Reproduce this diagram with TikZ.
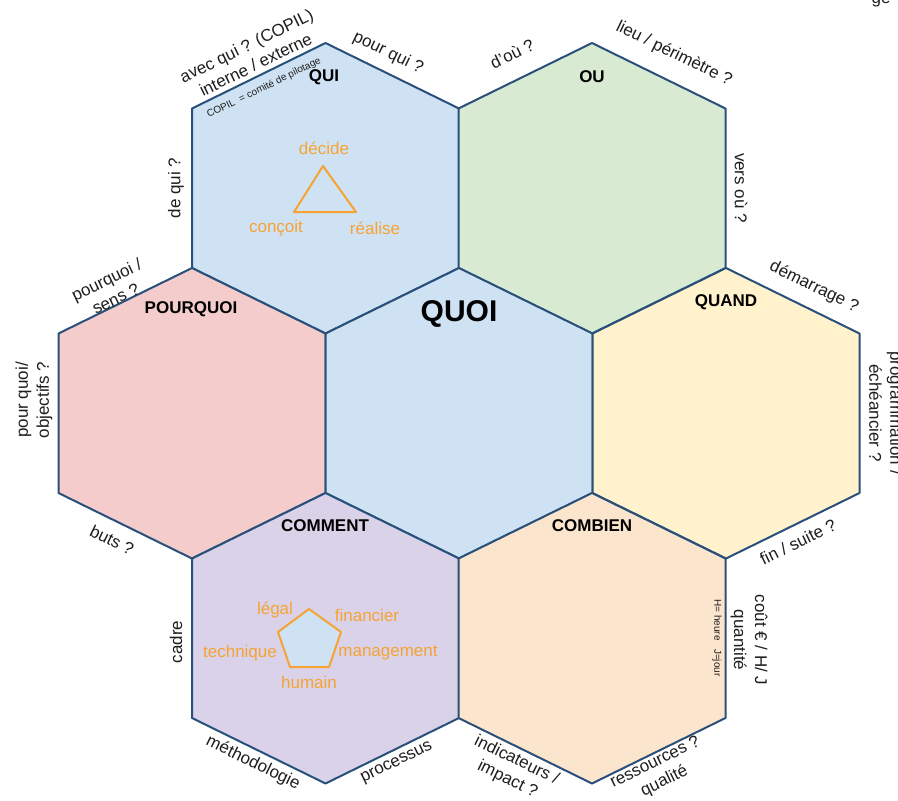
\documentclass[tikz,border=0pt]{standalone}
\usepackage{fontspec}
\setmainfont{Liberation Sans}
\definecolor{hexedge}{RGB}{40,80,122}
\definecolor{cblue}{RGB}{207,226,243}
\definecolor{cgreen}{RGB}{217,234,211}
\definecolor{cpink}{RGB}{244,204,204}
\definecolor{cyellow}{RGB}{255,242,204}
\definecolor{cpurple}{RGB}{217,210,233}
\definecolor{corange}{RGB}{252,229,205}
\definecolor{orangec}{RGB}{246,163,52}
\definecolor{lbltext}{RGB}{30,30,30}
\newcommand\hexcell[3]{\draw[hexline,fill=#3,shift={(#1,#2)}] (-133.5,79.75) -- (0,145.25) -- (133.5,79.75) -- (133.5,-79.75) -- (0,-145.25) -- (-133.5,-79.75) -- cycle;}
\begin{document}
\begin{tikzpicture}[x=1pt,y=1pt,
  hexline/.style={draw=hexedge,line width=2pt,line join=round},
  lbl/.style={font=\fontsize{17}{21}\selectfont,text=lbltext,align=center,inner sep=0pt},
  hdr/.style={font=\bfseries\fontsize{17}{19}\selectfont,text=black,inner sep=0pt},
  small/.style={font=\fontsize{10}{12}\selectfont,text=lbltext,inner sep=0pt},
  org/.style={font=\fontsize{17}{19}\selectfont,text=orangec,inner sep=0pt},
  orgline/.style={draw=orangec,line width=2pt,line join=round}]
\useasboundingbox (0,0) rectangle (898,-801);
\fill[white] (0,0) rectangle (898,-801);
% hexagons
\hexcell{325.5}{-188.25}{cblue}
\hexcell{592}{-188.25}{cgreen}
\hexcell{192}{-413.25}{cpink}
\hexcell{459}{-413.25}{cblue}
\hexcell{726}{-413.25}{cyellow}
\hexcell{325.5}{-638.25}{cpurple}
\hexcell{592}{-638.25}{corange}
% headers
\node[hdr] (qui) at (324,-77) {QUI};
\node[hdr] (ou) at (592,-77) {OU};
\node[hdr] (pourquoi) at (191,-309) {POURQUOI};
\node[hdr] (quand) at (726,-302) {QUAND};
\node[hdr] (comment) at (325,-526) {COMMENT};
\node[hdr] (combien) at (592,-526) {COMBIEN};
\node[hdr,font=\bfseries\fontsize{30}{32}\selectfont] (quoi) at (459,-314) {QUOI};
% outer labels
\node[lbl,rotate=26] (avec) at (251,-55) {avec qui ? (COPIL)\\interne / externe};
\node[small,rotate=26] (copil) at (264,-88) {COPIL~~= comité de pilotage};
\node[lbl,rotate=-26] (pourqui) at (388,-53) {pour qui ?};
\node[lbl,rotate=26] (dou) at (512,-54) {d'où ?};
\node[lbl,rotate=-26] (lieu) at (674,-54) {lieu / périmètre ?};
\node[lbl,rotate=-90] (versou) at (741,-188) {vers où ?};
\node[lbl,rotate=90] (dequi) at (176,-188) {de qui ?};
\node[lbl,rotate=-26] (demarrage) at (814,-287) {démarrage ?};
\node[lbl,rotate=26] (sens) at (111,-289) {pourquoi /\\sens ?};
\node[lbl,rotate=90] (objectifs) at (34,-400) {pour quoi/\\objectifs ?};
\node[lbl,rotate=-26] (buts) at (112,-540) {buts ?};
\node[lbl,rotate=-90] (prog) at (886,-413) {programmation /\\échéancier ?};
\node[lbl,rotate=26] (fin) at (798,-542) {fin / suite ?};
\node[lbl,rotate=-90] (cout) at (749,-640) {coût € / H/ J\\quantité};
\node[small,rotate=-90] (heure) at (717,-638) {H= heure~~~J=jour};
\node[lbl,rotate=90] (cadre) at (176,-642) {cadre};
\node[lbl,rotate=-26] (methodo) at (253,-763) {méthodologie};
\node[lbl,rotate=26] (processus) at (397,-763) {processus};
\node[lbl,rotate=-26] (indic) at (512,-770) {indicateurs /\\impact ?};
\node[lbl,rotate=26] (ressources) at (660,-772) {ressources ?\\qualité};
\node[lbl] (geo) at (881,1) {gé};
% triangle
\coordinate (t1) at (323,-166);
\coordinate (t2) at (294,-212);
\coordinate (t3) at (356,-212);
\draw[orgline] (t1) -- (t2) -- (t3) -- cycle;
\node[org] (decide) at (324,-148) {décide};
\node[org] (concoit) at (276,-228) {conçoit};
\node[org] (realise) at (375,-228) {réalise};
% pentagon
\coordinate (p1) at (309,-609);
\coordinate (p2) at (341,-632);
\coordinate (p3) at (329,-667);
\coordinate (p4) at (290,-667);
\coordinate (p5) at (278,-632);
\draw[orgline,fill=cblue] (p1) -- (p2) -- (p3) -- (p4) -- (p5) -- cycle;
\node[org] (legal) at (275,-610) {légal};
\node[org] (financier) at (367,-615) {financier};
\node[org] (technique) at (240,-653) {technique};
\node[org] (management) at (388,-653) {management};
\node[org] (humain) at (309,-682) {humain};
\end{tikzpicture}
\end{document}
